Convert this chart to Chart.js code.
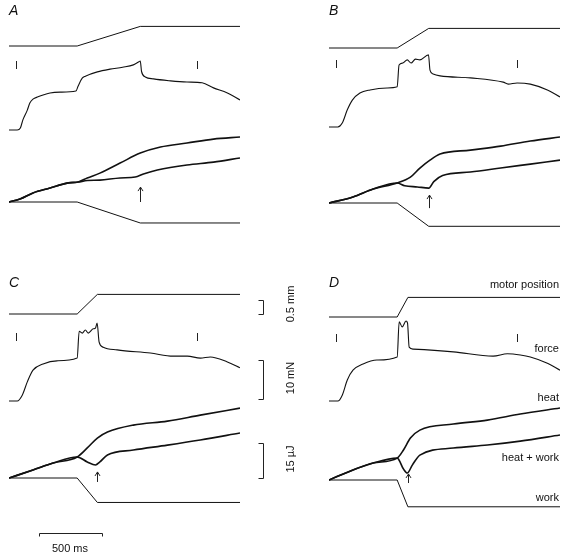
<!DOCTYPE html>
<html>
<head>
<meta charset="utf-8">
<script src="https://cdn.jsdelivr.net/npm/chart.js@4.4.1/dist/chart.umd.min.js"></script>
<style>
  body { margin: 0; background: #fff; }
  #wrap { position: relative; width: 565px; height: 556px; overflow: hidden;
          font-family: "Liberation Sans", Arial, sans-serif; color: #111; }
  canvas { position: absolute; }
  .letter { position: absolute; font-size: 14px; font-style: italic; line-height: 1; }
  .lbl { position: absolute; right: 6px; font-size: 11px; line-height: 1; white-space: nowrap;
         transform: translateY(-50%); }
  .mid { position: absolute; font-size: 11px; line-height: 1; white-space: nowrap;
         transform: translate(-50%, -50%); }
  .rot { position: absolute; font-size: 11px; line-height: 1; white-space: nowrap;
         transform: translate(-50%, -50%) rotate(-90deg); }
</style>
</head>
<body>
<div id="wrap">
  <canvas id="cA" width="320" height="270" style="left:0;top:0"></canvas>
  <canvas id="cB" width="245" height="270" style="left:320px;top:0"></canvas>
  <canvas id="cC" width="320" height="286" style="left:0;top:270px"></canvas>
  <canvas id="cD" width="245" height="286" style="left:320px;top:270px"></canvas>

  <div class="letter" style="left:9px;top:3px">A</div>
  <div class="letter" style="left:329px;top:3px">B</div>
  <div class="letter" style="left:9px;top:275px">C</div>
  <div class="letter" style="left:329px;top:275px">D</div>

  <div class="lbl" style="top:284px">motor position</div>
  <div class="lbl" style="top:348px">force</div>
  <div class="lbl" style="top:397px">heat</div>
  <div class="lbl" style="top:457px">heat + work</div>
  <div class="lbl" style="top:497px">work</div>

  <div class="rot" style="left:290px;top:304px">0.5 mm</div>
  <div class="rot" style="left:290px;top:378px">10 mN</div>
  <div class="rot" style="left:290px;top:459px">15 µJ</div>
  <div class="mid" style="left:70px;top:548px">500 ms</div>
</div>

<script>
// time in ms, motor position in mm, force in mN, energy in µJ
const stimTimes = [55, 1490];

const posA = [[0, 0], [540, 0], [1040, 0.7], [1830, 0.7]];
const posB = [[0, 0], [540, 0], [790, 0.7], [1830, 0.7]];
const posC = [[0, 0], [540, 0], [700, 0.7], [1830, 0.7]];
const posD = [[0, 0], [540, 0], [625, 0.7], [1830, 0.7]];

const forceA = [[0, 0], [65, 0], [90, 0.5], [110, 2.6], [145, 5.1], [165, 6.9], [190, 7.9], [230, 8.5],
  [270, 9.0], [325, 9.5], [405, 9.7], [530, 10.0], [548, 11.3], [580, 13.3], [605, 13.8], [700, 14.9],
  [800, 15.6], [900, 16.1], [985, 16.7], [1030, 17.5], [1040, 17.7], [1050, 15.0], [1080, 13.6],
  [1145, 13.1], [1280, 12.6], [1410, 12.3], [1530, 12.1], [1620, 10.8], [1730, 9.5], [1830, 7.7]];
const forceB = [[0, 0], [70, 0], [105, 1.0], [145, 4.4], [185, 6.9], [245, 8.7], [325, 9.5], [460, 10.0],
  [540, 10.3], [555, 15.9], [585, 16.4], [620, 17.2], [650, 16.4], [685, 17.4], [720, 17.2], [788, 18.5],
  [800, 14.6], [825, 13.6], [880, 13.1], [1120, 12.6], [1380, 11.5], [1420, 11.0], [1490, 11.3],
  [1595, 11.0], [1730, 9.5], [1830, 7.7]];
const forceC = [[0, 0], [65, 0], [105, 1.5], [145, 4.9], [190, 7.9], [270, 9.5], [380, 10.3], [540, 11.0],
  [556, 17.9], [580, 17.4], [605, 18.2], [627, 17.4], [667, 18.5], [685, 18.7], [698, 20.0], [714, 15.1],
  [746, 13.8], [857, 13.1], [1120, 12.3], [1300, 11.5], [1413, 11.5], [1516, 11.0], [1595, 11.3],
  [1730, 10.0], [1830, 8.5]];
const forceD = [[0, 0], [70, 0], [105, 1.5], [145, 5.4], [190, 7.9], [270, 9.5], [380, 10.5], [540, 11.3],
  [556, 20.3], [580, 19.0], [610, 20.5], [622, 20.0], [635, 13.8], [667, 13.3], [985, 12.6], [1300, 11.5],
  [1413, 12.1], [1516, 11.8], [1595, 11.3], [1730, 9.7], [1830, 7.9]];

const heatA = [[0, 0], [87, 1.3], [190, 3.9], [325, 6.0], [460, 8.1], [548, 8.6], [620, 10.3], [720, 12.4],
  [880, 16.7], [1040, 21.0], [1200, 23.6], [1410, 25.3], [1620, 27.0], [1830, 27.9]];
const heatB = [[0, 0], [190, 2.6], [350, 6.0], [540, 8.6], [645, 11.1], [720, 15.0], [800, 18.4],
  [880, 21.0], [1120, 22.7], [1360, 24.4], [1595, 26.6], [1830, 28.3]];
const heatC = [[0, 0], [190, 3.4], [350, 6.4], [540, 9.0], [620, 12.9], [700, 17.1], [780, 19.7],
  [985, 22.7], [1255, 24.4], [1515, 27.0], [1830, 30.0]];
const heatD = [[0, 0], [190, 4.3], [350, 7.3], [540, 9.4], [590, 12.9], [645, 18.0], [720, 21.4],
  [985, 24.0], [1255, 25.7], [1515, 28.3], [1830, 30.9]];

const heatWorkA = [[0, 0], [87, 1.3], [190, 3.9], [325, 6.0], [460, 8.1], [548, 8.6], [620, 9.2],
  [720, 9.4], [880, 10.3], [1000, 10.7], [1065, 12.0], [1175, 13.7], [1410, 15.9], [1620, 17.1], [1830, 18.9]];
const heatWorkB = [[0, 0], [190, 2.6], [350, 6.0], [540, 8.6], [600, 7.4], [700, 6.9], [790, 6.4],
  [830, 9.2], [900, 11.8], [1120, 13.3], [1360, 15.0], [1595, 16.7], [1830, 18.4]];
const heatWorkC = [[0, 0], [190, 3.4], [350, 6.4], [540, 9.0], [620, 6.9], [685, 5.6], [720, 6.9],
  [780, 9.9], [985, 12.0], [1255, 14.1], [1515, 16.3], [1830, 19.3]];
const heatWorkD = [[0, 0], [190, 4.3], [350, 7.3], [540, 9.4], [590, 4.7], [620, 3.0], [660, 6.4],
  [720, 10.7], [985, 13.7], [1255, 15.0], [1515, 16.7], [1830, 19.3]];

const workA = [[0, 0], [540, 0], [1040, -9], [1830, -9]];
const workB = [[0, 0], [540, 0], [790, -10], [1830, -10]];
const workC = [[0, 0], [540, 0], [700, -10.5], [1830, -10.5]];
const workD = [[0, 0], [540, 0], [625, -11.5], [1830, -11.5]];

// arrows: [time, from µJ, to µJ]
const arrowA = [1040, 0, 6.4];
const arrowB = [790, -2.2, 3.4];
const arrowC = [700, -1.7, 2.6];
const arrowD = [625, -1.3, 2.6];

// calibration bars
const barMm = [0, 0.5];
const barMn = [0.5, 10.5];
const barUj = [0, 15];
const barMs = [240, 740];

// px per unit and plotting height (layout)
const PX_MM = 28, PX_MN = 3.9, PX_UJ = 2.33, AREA_H = 240;

const panels = [
  { id: "cA", pos: posA, force: forceA, heat: heatA, hw: heatWorkA, work: workA, arrow: arrowA, base: [46, 130, 202], stimY: 61 },
  { id: "cB", pos: posB, force: forceB, heat: heatB, hw: heatWorkB, work: workB, arrow: arrowB, base: [48, 127, 203], stimY: 60 },
  { id: "cC", pos: posC, force: forceC, heat: heatC, hw: heatWorkC, work: workC, arrow: arrowC, base: [44, 131, 208], stimY: 63, bars: true },
  { id: "cD", pos: posD, force: forceD, heat: heatD, hw: heatWorkD, work: workD, arrow: arrowD, base: [47, 131, 210], stimY: 64 }
];

function range(base, perUnit) {
  return { min: -(AREA_H - base) / perUnit, max: base / perUnit };
}

function toXY(arr) {
  return arr.map(p => ({ x: p[0], y: p[1] }));
}

const extras = {
  id: "extras",
  afterDatasetsDraw(chart, args, opts) {
    const ctx = chart.ctx;
    const x = chart.scales.x;
    const yE = chart.scales.yEnergy;
    ctx.save();
    ctx.strokeStyle = "#222";
    ctx.lineWidth = 1;

    // stimulus marks
    stimTimes.forEach(t => {
      const px = Math.round(x.getPixelForValue(t)) + 0.5;
      ctx.beginPath();
      ctx.moveTo(px, opts.stimY);
      ctx.lineTo(px, opts.stimY + 8);
      ctx.stroke();
    });

    // arrow at the end of the stretch
    const a = opts.arrow;
    const ax = Math.round(x.getPixelForValue(a[0])) + 0.5;
    const y0 = yE.getPixelForValue(a[1]);
    const y1 = yE.getPixelForValue(a[2]);
    ctx.beginPath();
    ctx.moveTo(ax, y0);
    ctx.lineTo(ax, y1);
    ctx.moveTo(ax - 2.5, y1 + 4);
    ctx.lineTo(ax, y1);
    ctx.lineTo(ax + 2.5, y1 + 4);
    ctx.stroke();

    if (opts.bars) {
      const bx = 263.5;
      [[chart.scales.yPos, barMm], [chart.scales.yForce, barMn], [chart.scales.yEnergy, barUj]].forEach(([s, b]) => {
        const top = Math.round(s.getPixelForValue(b[1])) + 0.5;
        const bot = Math.round(s.getPixelForValue(b[0])) + 0.5;
        ctx.beginPath();
        ctx.moveTo(bx - 5, top);
        ctx.lineTo(bx, top);
        ctx.lineTo(bx, bot);
        ctx.lineTo(bx - 5, bot);
        ctx.stroke();
      });
      const tl = Math.round(x.getPixelForValue(barMs[0])) + 0.5;
      const tr = Math.round(x.getPixelForValue(barMs[1])) + 0.5;
      const ty = 263.5;
      ctx.beginPath();
      ctx.moveTo(tl, ty + 3);
      ctx.lineTo(tl, ty);
      ctx.lineTo(tr, ty);
      ctx.lineTo(tr, ty + 3);
      ctx.stroke();
    }
    ctx.restore();
  }
};

panels.forEach(p => {
  const canvas = document.getElementById(p.id);
  const w = canvas.width, h = canvas.height;
  const line = (data, axis, width, smooth) => ({
    data: toXY(data),
    yAxisID: axis,
    borderColor: "#111",
    borderWidth: width,
    pointRadius: 0,
    fill: false,
    tension: 0,
    cubicInterpolationMode: smooth ? "monotone" : "default"
  });

  new Chart(canvas, {
    type: "line",
    data: {
      datasets: [
        line(p.pos, "yPos", 1, false),
        line(p.force, "yForce", 1.1, true),
        line(p.heat, "yEnergy", 1.6, true),
        line(p.hw, "yEnergy", 1.6, true),
        line(p.work, "yEnergy", 1, false)
      ]
    },
    options: {
      responsive: false,
      animation: false,
      events: [],
      layout: { autoPadding: false, padding: { left: 9, right: w - 240, top: 0, bottom: h - AREA_H } },
      plugins: {
        legend: { display: false },
        tooltip: { enabled: false },
        extras: { stimY: p.stimY, arrow: p.arrow, bars: !!p.bars }
      },
      scales: {
        x: { type: "linear", min: 0, max: 1830, display: false },
        yPos: { type: "linear", display: false, ...range(p.base[0], PX_MM) },
        yForce: { type: "linear", display: false, ...range(p.base[1], PX_MN) },
        yEnergy: { type: "linear", display: false, ...range(p.base[2], PX_UJ) }
      }
    },
    plugins: [extras]
  });
});
</script>
</body>
</html>
